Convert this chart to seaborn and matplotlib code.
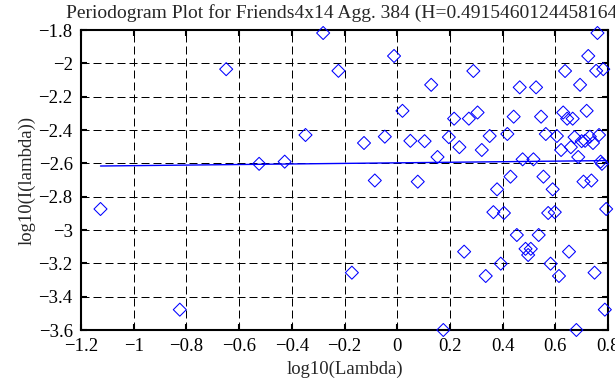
import numpy as np
import pandas as pd
import matplotlib
matplotlib.use("Agg")
import matplotlib.pyplot as plt
from matplotlib.ticker import FuncFormatter, MultipleLocator
import seaborn as sns

# --- data (log10 frequency vs log10 periodogram) ---
log_lambda = [
    -1.126, -0.825, -0.649, -0.524, -0.427, -0.348, -0.281, -0.223, -0.172, -0.126,
    -0.085, -0.047, -0.012, 0.020, 0.050, 0.078, 0.104, 0.129, 0.153, 0.175,
    0.196, 0.216, 0.236, 0.254, 0.272, 0.289, 0.305, 0.321, 0.336, 0.351,
    0.365, 0.379, 0.393, 0.405, 0.418, 0.430, 0.442, 0.454, 0.465, 0.476,
    0.487, 0.497, 0.507, 0.517, 0.527, 0.537, 0.546, 0.555, 0.564, 0.573,
    0.582, 0.590, 0.598, 0.606, 0.614, 0.622, 0.630, 0.637, 0.645, 0.652,
    0.659, 0.666, 0.673, 0.680, 0.687, 0.694, 0.700, 0.707, 0.713, 0.719,
    0.725, 0.731, 0.737, 0.743, 0.749, 0.755, 0.760, 0.766, 0.772, 0.777,
    0.782, 0.788, 0.793,
]
log_periodogram = [
    -2.874, -3.478, -2.035, -2.603, -2.590, -2.430, -1.818, -2.045, -3.256, -2.478,
    -2.703, -2.440, -1.956, -2.285, -2.465, -2.710, -2.467, -2.129, -2.562, -3.600,
    -2.443, -2.332, -2.503, -3.130, -2.332, -2.046, -2.295, -2.520, -3.276, -2.436,
    -2.893, -2.756, -3.202, -2.898, -2.424, -2.680, -2.320, -3.030, -2.144, -2.576,
    -3.113, -3.150, -3.113, -2.576, -2.144, -3.030, -2.320, -2.680, -2.424, -2.898,
    -3.202, -2.756, -2.893, -2.436, -3.276, -2.520, -2.295, -2.046, -2.332, -3.130,
    -2.503, -2.332, -2.443, -3.600, -2.562, -2.129, -2.467, -2.710, -2.465, -2.285,
    -1.956, -2.440, -2.703, -2.478, -3.256, -2.045, -1.818, -2.430, -2.590, -2.603,
    -2.035, -3.478, -2.874,
]
# fitted line: slope 1 - 2H, intercept
hurst = 0.4915460124458164
fit_intercept = -2.597
title = "Periodogram Plot for Friends4x14 Agg. 384 (H=0.4915460124458164)"

df = pd.DataFrame({"log_lambda": log_lambda, "log_I": log_periodogram})
df["fit"] = fit_intercept + (1 - 2 * hurst) * df["log_lambda"]

sns.set_style("ticks")
plt.rcParams["font.family"] = ["Liberation Serif", "DejaVu Serif"]
plt.rcParams["axes.unicode_minus"] = True
FS = 13.5

fig = plt.figure(figsize=(6.15, 3.85), dpi=100)
ax = fig.add_axes([81 / 615, 55 / 385, 527 / 615, 300 / 385])

sns.scatterplot(data=df, x="log_lambda", y="log_I", marker="D", s=44,
                facecolors="none", edgecolor="blue", linewidth=0.75,
                clip_on=False, zorder=3, ax=ax)
sns.lineplot(data=df, x="log_lambda", y="fit", color="blue", lw=1.0,
             zorder=4, ax=ax)

ax.set_xlim(-1.2, 0.8)
ax.set_ylim(-3.6, -1.8)
ax.xaxis.set_major_locator(MultipleLocator(0.2))
ax.yaxis.set_major_locator(MultipleLocator(0.2))

def fmt(v, pos):
    return f"{round(v, 6) + 0.0:g}".replace("-", "\u2212")

ax.xaxis.set_major_formatter(FuncFormatter(fmt))
ax.yaxis.set_major_formatter(FuncFormatter(fmt))

ax.grid(True, color="black", lw=0.72, linestyle=(0, (8, 4)))
for sp in ax.spines.values():
    sp.set_visible(True)
    sp.set_color("black")
    sp.set_linewidth(1.5)
ax.tick_params(direction="in", length=4.5, width=1.5, top=True, right=True,
               labelsize=FS, colors="black", pad=6)
ax.set_facecolor("white")

ax.set_title(title, fontsize=14, pad=9)
ax.set_xlabel("log10(Lambda)", fontsize=FS, labelpad=4)
ax.set_ylabel("log10(I(lambda))", fontsize=FS, labelpad=2)

fig.savefig("out.png", dpi=100, facecolor="white")
